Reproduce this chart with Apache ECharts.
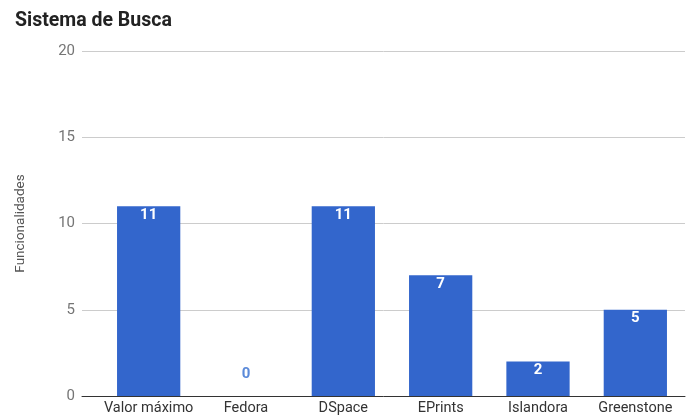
<!DOCTYPE html>
<html>
<head>
<meta charset="utf-8">
<script src="https://cdn.jsdelivr.net/npm/echarts@6/dist/echarts.min.js"></script>
<style>html,body{margin:0;padding:0;background:#fff}#c{width:691px;height:419px}</style>
</head>
<body>
<div id="c"></div>
<script>
const categories = ['Valor máximo', 'Fedora', 'DSpace', 'EPrints', 'Islandora', 'Greenstone'];
const values = [11, 0, 11, 7, 2, 5];
const yTicks = [0, 5, 10, 15, 20];

const chart = echarts.init(document.getElementById('c'));
const font = 'Roboto, "Noto Sans", Arial, sans-serif';
chart.setOption({
  animation: false,
  textStyle: { fontFamily: font },
  title: {
    text: 'Sistema de Busca', left: 10, top: 6,
    textStyle: { fontFamily: font, fontSize: 19.5, fontWeight: 'bold', color: '#222' }
  },
  grid: [
    { left: 82, right: 6, top: 51, bottom: 23 },
    { left: 100, right: 7, top: 51, bottom: 23 }
  ],
  xAxis: [
    { gridIndex: 0, type: 'category', data: [''], axisLine: { lineStyle: { color: '#333', width: 1 } },
      axisTick: { show: false }, axisLabel: { show: false } },
    { gridIndex: 1, type: 'category', data: categories, axisLine: { show: false }, axisTick: { show: false },
      axisLabel: { color: '#333', fontSize: 14.5, margin: 5, fontFamily: font, interval: 0 } }
  ],
  yAxis: [
    { gridIndex: 0, type: 'value', min: yTicks[0], max: yTicks[yTicks.length - 1], interval: 5,
      name: 'Funcionalidades', nameLocation: 'middle', nameGap: 54, nameRotate: 90,
      nameTextStyle: { color: '#555', fontSize: 13.5, fontFamily: font },
      axisLine: { show: false }, axisTick: { show: false },
      axisLabel: { color: '#757575', fontSize: 15, margin: 7, fontFamily: font },
      splitLine: { lineStyle: { color: '#cccccc', width: 1 } } },
    { gridIndex: 1, type: 'value', min: 0, max: 20, show: false, splitLine: { show: false } }
  ],
  series: [{
    type: 'bar', xAxisIndex: 1, yAxisIndex: 1,
    barCategoryGap: '35%',
    itemStyle: { color: '#3366cc' },
    label: { show: true, position: 'insideTop', distance: 1, color: '#fff', fontWeight: 'bold', fontSize: 15, fontFamily: font },
    data: values.map(v => v === 0
      ? { value: v, label: { position: 'top', distance: 14, color: '#5b8ad9', fontWeight: 'bold' } }
      : v)
  }]
});
</script>
</body>
</html>
